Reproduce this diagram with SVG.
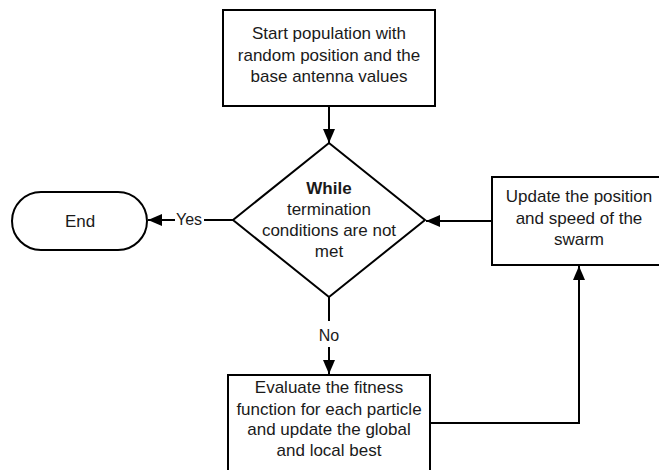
<svg xmlns="http://www.w3.org/2000/svg" width="659" height="470" viewBox="0 0 659 470">
<style>
.shape{fill:#fff;stroke:#000;stroke-width:2}
.t{font-family:"Liberation Sans",Arial,sans-serif;font-size:17px;fill:#1a1a1a;text-anchor:middle}
.b{font-weight:bold}
.lbl{font-family:"Liberation Sans",Arial,sans-serif;font-size:16px;fill:#1a1a1a;text-anchor:middle}
.c{fill:none;stroke:#000;stroke-width:2}
</style>
<defs>
<marker id="ah" viewBox="0 0 14 12" refX="14" refY="6" markerWidth="14" markerHeight="12" markerUnits="userSpaceOnUse" orient="auto">
<path d="M0,0 L14,6 L0,12 Z" fill="#000"/>
</marker>
</defs>
<rect width="659" height="470" fill="#fff"/>
<g id="connectors">
<path class="c" d="M329,106 V143" marker-end="url(#ah)"/>
<path class="c" d="M233,220 H148" marker-end="url(#ah)"/>
<path class="c" d="M492,221 H426" marker-end="url(#ah)"/>
<path class="c" d="M329,297 V374" marker-end="url(#ah)"/>
<path class="c" d="M430,423 H579 V266" marker-end="url(#ah)"/>
<rect x="175" y="208" width="29" height="22" fill="#fff"/>
<text class="lbl" x="189" y="225">Yes</text>
<rect x="317" y="321" width="24" height="26" fill="#fff"/>
<text class="lbl" x="329" y="341">No</text>
</g>
<g id="start">
<rect class="shape" x="223" y="10" width="212" height="96"/>
<text class="t" x="329" y="39">Start population with</text>
<text class="t" x="329" y="61">random position and the</text>
<text class="t" x="329" y="82">base antenna values</text>
</g>
<g id="decision">
<polygon class="shape" points="329,143 425,220 329,297 233,220"/>
<text class="t b" x="329" y="194">While</text>
<text class="t" x="329" y="215">termination</text>
<text class="t" x="329" y="236">conditions are not</text>
<text class="t" x="329" y="257">met</text>
</g>
<g id="end">
<rect class="shape" x="12" y="192" width="135" height="58" rx="29"/>
<text class="t" x="80" y="227">End</text>
</g>
<g id="update">
<rect class="shape" x="492" y="177" width="174" height="88"/>
<text class="t" x="579" y="202">Update the position</text>
<text class="t" x="579" y="224">and speed of the</text>
<text class="t" x="579" y="245">swarm</text>
</g>
<g id="evaluate">
<rect class="shape" x="228" y="375" width="202" height="100"/>
<text class="t" x="329" y="393">Evaluate the fitness</text>
<text class="t" x="329" y="415">function for each particle</text>
<text class="t" x="329" y="435">and update the global</text>
<text class="t" x="329" y="456">and local best</text>
</g>
</svg>
